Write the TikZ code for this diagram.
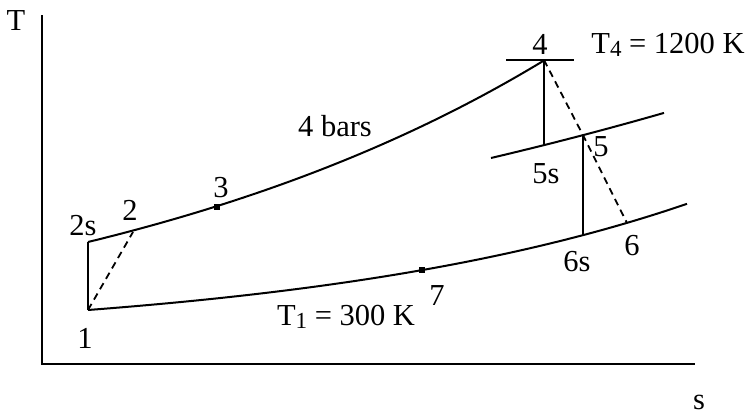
\documentclass[tikz,border=0pt]{standalone}
\usepackage{fontspec}
\setmainfont{Liberation Serif}
\newcommand{\mysub}[1]{\raisebox{-2.5pt}{\fontsize{23}{25}\selectfont #1}}
\begin{document}
\begin{tikzpicture}[x=1pt,y=-1pt,
  curve/.style={line width=2pt},
  dashline/.style={line width=1.8pt,dash pattern=on 7pt off 5pt},
  lbl/.style={inner sep=0pt,font=\fontsize{30.5}{35}\selectfont},
  marker/.style={fill=black,minimum size=5.5pt,inner sep=0pt,draw=none}]
\useasboundingbox (0,0) rectangle (756,415);
% points
\coordinate (p1) at (88,310);
\coordinate (p2s) at (88,242);
\coordinate (p2) at (133,232);
\coordinate (p4) at (544,60);
\coordinate (p5s) at (544,145);
\coordinate (p5) at (583,135.2);
\coordinate (p6s) at (583,235.5);
\coordinate (p6) at (627,223);
\coordinate (ytop) at (42,15);
\coordinate (orig) at (42,364);
\coordinate (xend) at (695,364);
\coordinate (tl) at (506,60);
\coordinate (tr) at (574,60);
% axes
\draw[curve] (ytop) -- (orig) -- (xend);
% high pressure isobar
\draw[curve] plot[domain=88:544,samples=60] (\x,{364-122*exp(0.002002*(\x-88))});
% low pressure isobar
\draw[curve] plot[domain=88:687,samples=80] (\x,{364-(23.46+30.54*exp(0.0025*(\x-88)))});
% intermediate isobar
\draw[curve] plot[domain=491:664,samples=30] (\x,{364-206*exp(0.00114*(\x-491))});
% top tick
\draw[curve] (tl) -- (tr);
% vertical lines
\draw[curve] (p1) -- (p2s);
\draw[curve] (p4) -- (p5s);
\draw[curve] (p5) -- (p6s);
% dashed
\draw[dashline] (p1) -- (p2);
\draw[dashline] (p4) -- (p5) -- (p6);
% markers
\node[marker] (m3) at (217,207) {};
\node[marker] (m7) at (422,270) {};
% labels
\node[lbl] (lT) at (16,21) {T};
\node[lbl] (ls) at (699,402) {s};
\node[lbl] (l1) at (85,338) {1};
\node[lbl] (l2s) at (83,226) {2s};
\node[lbl] (l2) at (130,210) {2};
\node[lbl] (l3) at (221,188) {3};
\node[lbl] (l4) at (540,44) {4};
\node[lbl] (l5s) at (546,174) {5s};
\node[lbl] (l5) at (601,147) {5};
\node[lbl] (l6s) at (577,262) {6s};
\node[lbl] (l6) at (632,246) {6};
\node[lbl] (l7) at (437,296) {7};
\node[lbl] (lbars) at (335,126) {4 bars};
\node[lbl] (lT4) at (668,45) {T\mysub{4} = 1200 K};
\node[lbl] (lT1) at (346,317) {T\mysub{1} = 300 K};
\end{tikzpicture}
\end{document}
